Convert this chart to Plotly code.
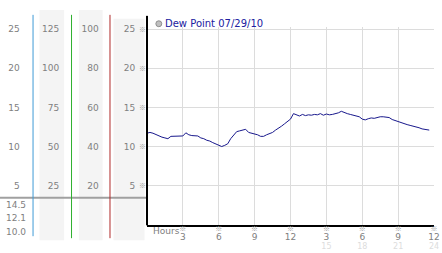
import plotly.graph_objects as go

W, H = 442, 253

series_name = "Dew Point 07/29/10"
hours = [0.0, 0.25, 0.5, 0.75, 1.0, 1.25, 1.5, 1.75, 2.0, 2.25, 2.5, 2.75, 3.0, 3.25, 3.5, 3.75,
         4.0, 4.25, 4.5, 4.75, 5.0, 5.25, 5.5, 5.75, 6.0, 6.25, 6.5, 6.75, 7.0, 7.25, 7.5, 7.75,
         8.0, 8.25, 8.5, 8.75, 9.0, 9.25, 9.5, 9.75, 10.0, 10.25, 10.5, 10.75, 11.0, 11.25, 11.5, 11.75,
         12.0, 12.25, 12.5, 12.75, 13.0, 13.25, 13.5, 13.75, 14.0, 14.25, 14.5, 14.75, 15.0, 15.25, 15.5, 15.75,
         16.0, 16.25, 16.5, 16.75, 17.0, 17.25, 17.5, 17.75, 18.0, 18.25, 18.5, 18.75, 19.0, 19.25, 19.5, 19.75,
         20.0, 20.25, 20.5, 20.75, 21.0, 21.25, 21.5, 21.75, 22.0, 22.25, 22.5, 22.75, 23.0, 23.25, 23.5, 23.6]
dew_point = [11.7, 11.8, 11.7, 11.5, 11.3, 11.2, 11.1, 11.0, 11.3, 11.3, 11.3, 11.3, 11.35, 11.75, 11.5, 11.4,
             11.4, 11.35, 11.1, 11.0, 10.8, 10.7, 10.5, 10.3, 10.2, 10.0, 10.15, 10.35, 11.0, 11.5, 11.9, 12.0,
             12.1, 12.2, 11.8, 11.7, 11.6, 11.5, 11.3, 11.3, 11.5, 11.6, 11.8, 12.1, 12.3, 12.6, 12.9, 13.2,
             13.5, 14.2, 14.0, 13.9, 14.1, 13.95, 14.05, 14.0, 14.1, 14.05, 14.2, 14.0, 14.15, 14.05, 14.1, 14.2,
             14.3, 14.5, 14.3, 14.2, 14.1, 14.0, 13.9, 13.8, 13.5, 13.4, 13.55, 13.65, 13.6, 13.75, 13.8, 13.8,
             13.75, 13.7, 13.45, 13.3, 13.15, 13.0, 12.9, 12.8, 12.7, 12.6, 12.55, 12.4, 12.25, 12.2, 12.1, 12.1]

x_tick_vals = [3, 6, 9, 12, 15, 18, 21, 24]
x_tick_text = ["3", "6", "9", "12", "3", "6", "9", "12"]
x_tick_text_24h = ["", "", "", "", "15", "18", "21", "24"]
x_axis_label = "Hours"

y_tick_vals = [5, 10, 15, 20, 25]
col1_vals = [5, 10, 15, 20, 25]
col2_vals = [25, 50, 75, 100, 125]
col3_vals = [20, 40, 60, 80, 100]
col4_vals = [5, 10, 15, 20, 25]
stats_labels = ["14.5", "12.1", "10.0"]
mark = "※"

Y_MAX = 25.3

def px(x):
    return x / W

def py(y):
    return 1 - y / H

FONT = "DejaVu Sans"
MARKFONT = "Noto Sans CJK JP"
LBL = "#808080"

fig = go.Figure()
fig.add_trace(go.Scatter(x=hours, y=dew_point, mode="lines",
                         line=dict(color="#18188c", width=1), showlegend=False,
                         xaxis="x", yaxis="y"))

xdom = [px(149), px(440)]
ydom = [py(224.5), py(24)]

common_x = dict(range=[0, 24], tickvals=x_tick_vals, showgrid=False, zeroline=False, ticks="",
                ticklabeloverflow="allow")
layout = dict(
    width=W, height=H, margin=dict(l=0, r=0, t=0, b=0),
    paper_bgcolor="white", plot_bgcolor="white", showlegend=False,
    xaxis=dict(domain=xdom, anchor="y", range=[0, 24], tickvals=x_tick_vals, ticktext=x_tick_text,
               showgrid=True, gridcolor="#dcdcdc", gridwidth=1, zeroline=False,
               showline=True, linecolor="black", linewidth=2, ticks="", ticklabeloverflow="allow",
               tickfont=dict(family=FONT, size=9, color=LBL), ticklabelstandoff=2),
    xaxis2=dict(common_x, overlaying="x", anchor="free", position=py(224.5),
                ticktext=[mark] * len(x_tick_vals),
                tickfont=dict(family=MARKFONT, size=7, color="#999999"), ticklabelstandoff=-2),
    xaxis3=dict(common_x, overlaying="x", anchor="free", position=py(224.5),
                ticktext=x_tick_text_24h,
                tickfont=dict(family=FONT, size=8, color="#dddddd"), ticklabelstandoff=15),
    yaxis=dict(domain=ydom, anchor="x", range=[0, Y_MAX], tickvals=y_tick_vals,
               ticktext=[mark] * len(y_tick_vals),
               showgrid=True, gridcolor="#dcdcdc", gridwidth=1, zeroline=False,
               showline=False, ticks="",
               tickfont=dict(family=MARKFONT, size=7, color="#999999"), ticklabelstandoff=0),
)

cols = [(col1_vals, 1, 20), (col2_vals, 5, 60), (col3_vals, 4, 100), (col4_vals, 1, 137)]
for i, (vals, scale, pos) in enumerate(cols):
    layout[f"yaxis{i + 2}"] = dict(overlaying="y", anchor="free", position=px(pos), side="left",
                                  range=[0, Y_MAX * scale], tickvals=vals,
                                  ticktext=[str(v) for v in vals],
                                  showgrid=False, zeroline=False, showline=False, ticks="",
                                  tickfont=dict(family=FONT, size=9, color=LBL))
fig.update_layout(**layout)

for i in range(4):
    fig.add_trace(go.Scatter(x=[None], y=[None], xaxis="x", yaxis=f"y{i + 2}", showlegend=False))
fig.add_trace(go.Scatter(x=[None], y=[None], xaxis="x2", yaxis="y", showlegend=False))
fig.add_trace(go.Scatter(x=[None], y=[None], xaxis="x3", yaxis="y", showlegend=False))

shapes = []
for x0, x1, y0 in [(40, 65, 7), (80, 104, 7), (115, 146.5, 16)]:
    shapes.append(dict(type="rect", xref="paper", yref="paper", x0=px(x0), x1=px(x1),
                       y0=py(240), y1=py(y0), fillcolor="#f4f4f4", line_width=0, layer="below"))
shapes.append(dict(type="line", xref="paper", yref="paper", x0=0, x1=px(149), y0=py(197), y1=py(197),
                   line=dict(color="#a0a0a0", width=2)))
for x, col, y1 in [(33.5, "#3f9bd6", 236), (72.5, "#2fb02f", 238), (111.5, "#b02a2a", 238)]:
    shapes.append(dict(type="line", xref="paper", yref="paper", x0=px(x), x1=px(x), y0=py(12), y1=py(y1),
                       line=dict(color=col, width=1)))
shapes.append(dict(type="line", xref="paper", yref="paper", x0=px(149), x1=px(149), y0=py(13), y1=py(225),
                   line=dict(color="black", width=2)))
shapes.append(dict(type="circle", xref="paper", yref="paper", x0=px(158), x1=px(164), y0=py(24), y1=py(18),
                   fillcolor="#c0c0c0", line=dict(color="#909090", width=1)))
fig.update_layout(shapes=shapes)

ann = [dict(text=series_name, xref="paper", yref="paper", x=px(165), y=py(21), xanchor="left",
            yanchor="middle", showarrow=False, font=dict(family=FONT, size=10, color="#2020a0")),
       dict(text=x_axis_label, xref="paper", yref="paper", x=px(153), y=py(231), xanchor="left",
            yanchor="middle", showarrow=False, font=dict(family=FONT, size=9, color=LBL))]
for lbl, yy in zip(stats_labels, [204, 218, 232]):
    ann.append(dict(text=lbl, xref="paper", yref="paper", x=px(28), y=py(yy), xanchor="right",
                    yanchor="middle", showarrow=False, font=dict(family=FONT, size=9, color=LBL)))
fig.update_layout(annotations=ann)

fig.write_html("out.html")
